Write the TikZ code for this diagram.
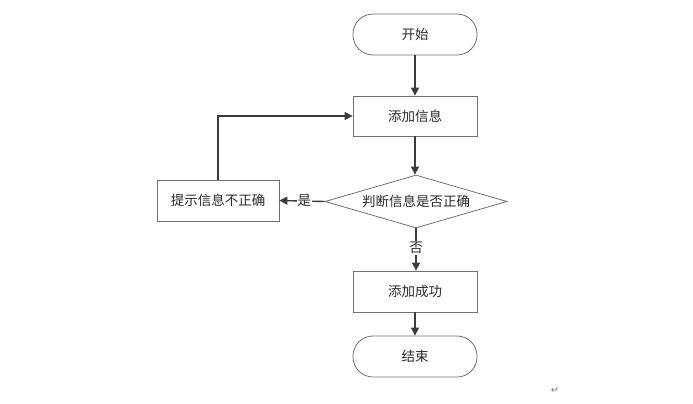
\documentclass[tikz,border=0pt]{standalone}
\usepackage{fontspec}
\newfontfamily\cjk{Noto Sans CJK SC}
\newfontfamily\dejavu{DejaVu Sans}
\usetikzlibrary{shapes.geometric,arrows.meta}
\definecolor{lineC}{HTML}{3C3C3C}
\definecolor{boxC}{HTML}{707070}
\definecolor{txtC}{HTML}{2A2A2A}
\begin{document}
\begin{tikzpicture}[x=1pt,y=-1pt,
  every node/.style={font=\cjk\fontsize{13.5pt}{15pt}\selectfont, text=txtC},
  term/.style={draw=boxC, line width=0.8pt, rectangle, rounded corners=20pt, minimum width=124pt, minimum height=41pt, inner sep=0pt},
  procbox/.style={draw=boxC, line width=0.8pt, rectangle, minimum width=124pt, minimum height=40pt, inner sep=0pt},
  decide/.style={draw=boxC, line width=0.8pt, diamond, aspect=3.4, minimum width=182pt, minimum height=53pt, inner sep=0pt},
  conn/.style={draw=lineC, line width=1.4pt, -{Triangle[length=8pt,width=8pt]}},
  lab/.style={fill=white, inner sep=1pt}
]
\useasboundingbox (0,0) rectangle (693,404);
\node[term] (start) at (415,34.5) {开始};
\node[procbox] (add) at (415,116) {添加信息};
\node[decide] (judge) at (416,201.5) {判断信息是否正确};
\node[procbox, minimum width=122pt, minimum height=41pt] (tip) at (218,200.5) {提示信息不正确};
\node[procbox, minimum height=41pt] (ok) at (415,291.5) {添加成功};
\node[term] (end) at (415,356.5) {结束};
\node[font=\dejavu\fontsize{10pt}{12pt}\selectfont, text=gray] (ret) at (555,390) {↵};

\draw[conn] (start) -- (add);
\draw[conn] (add.south) -- (add.south |- judge.north);
\draw[conn] (judge.west) -- node[lab, pos=0.45] {是} (tip.east);
\draw[conn] (tip.north) |- (add.west);
\draw[conn] (judge.south) -- node[lab, pos=0.47] {否} (judge.south |- ok.north);
\draw[conn] (ok) -- (end);
\end{tikzpicture}
\end{document}
